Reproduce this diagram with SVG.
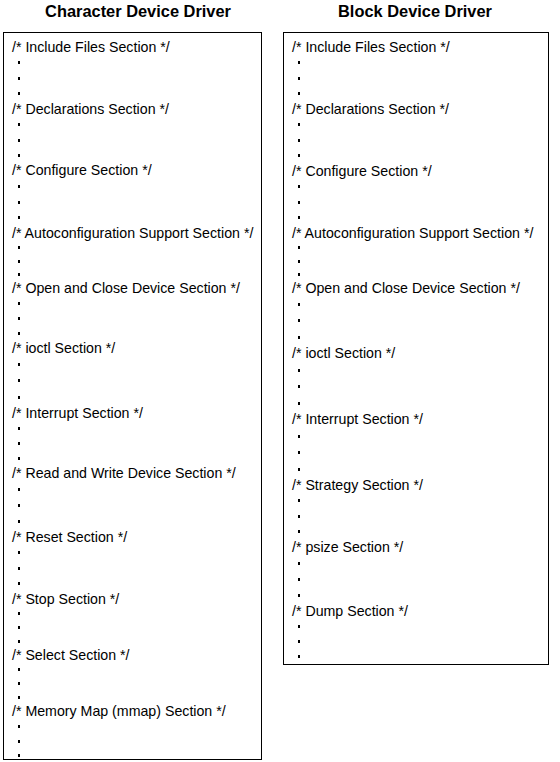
<svg xmlns="http://www.w3.org/2000/svg" width="560" height="762" viewBox="0 0 560 762">
<style>
.title{font-family:"Liberation Sans",Arial,sans-serif;font-weight:bold;font-size:16.4px;fill:#000;text-anchor:middle}
.t{font-family:"Liberation Sans",Arial,sans-serif;font-size:14.2px;fill:#000}
.box{fill:#fff;stroke:#000;stroke-width:1}
.d{fill:#000}
</style>
<rect width="560" height="762" fill="#fff"/>
<g id="char-driver">
<text class="title" x="138" y="17">Character Device Driver</text>
<rect class="box" x="3.5" y="32.5" width="258" height="727"/>
<text class="t" x="12" y="52">/* Include Files Section */</text>
<text class="t" x="12" y="114">/* Declarations Section */</text>
<text class="t" x="12" y="175">/* Configure Section */</text>
<text class="t" x="12" y="238">/* Autoconfiguration Support Section */</text>
<text class="t" x="12" y="293">/* Open and Close Device Section */</text>
<text class="t" x="12" y="353">/* ioctl Section */</text>
<text class="t" x="12" y="418">/* Interrupt Section */</text>
<text class="t" x="12" y="478">/* Read and Write Device Section */</text>
<text class="t" x="12" y="542">/* Reset Section */</text>
<text class="t" x="12" y="604">/* Stop Section */</text>
<text class="t" x="12" y="660">/* Select Section */</text>
<text class="t" x="12" y="716">/* Memory Map (mmap) Section */</text>
<g class="d">
<rect x="18" y="61" width="2" height="3"/><rect x="18" y="77" width="2" height="3"/><rect x="18" y="92" width="2" height="3"/>
<rect x="18" y="123" width="2" height="3"/><rect x="18" y="139" width="2" height="3"/><rect x="18" y="154" width="2" height="3"/>
<rect x="18" y="185" width="2" height="3"/><rect x="18" y="201" width="2" height="3"/><rect x="18" y="216" width="2" height="3"/>
<rect x="18" y="246" width="2" height="3"/><rect x="18" y="260" width="2" height="3"/><rect x="18" y="273" width="2" height="3"/>
<rect x="18" y="302" width="2" height="3"/><rect x="18" y="317" width="2" height="3"/><rect x="18" y="332" width="2" height="3"/>
<rect x="18" y="363" width="2" height="3"/><rect x="18" y="379" width="2" height="3"/><rect x="18" y="396" width="2" height="3"/>
<rect x="18" y="427" width="2" height="3"/><rect x="18" y="442" width="2" height="3"/><rect x="18" y="457" width="2" height="3"/>
<rect x="18" y="488" width="2" height="3"/><rect x="18" y="504" width="2" height="3"/><rect x="18" y="520" width="2" height="3"/>
<rect x="18" y="551" width="2" height="3"/><rect x="18" y="567" width="2" height="3"/><rect x="18" y="582" width="2" height="3"/>
<rect x="18" y="612" width="2" height="3"/><rect x="18" y="626" width="2" height="3"/><rect x="18" y="640" width="2" height="3"/>
<rect x="18" y="668" width="2" height="3"/><rect x="18" y="682" width="2" height="3"/><rect x="18" y="696" width="2" height="3"/>
<rect x="18" y="725" width="2" height="3"/><rect x="18" y="740" width="2" height="3"/><rect x="18" y="754" width="2" height="3"/>
</g>
</g>
<g id="block-driver">
<text class="title" x="415" y="17">Block Device Driver</text>
<rect class="box" x="283.5" y="32.5" width="265" height="632"/>
<text class="t" x="292" y="52">/* Include Files Section */</text>
<text class="t" x="292" y="114">/* Declarations Section */</text>
<text class="t" x="292" y="176">/* Configure Section */</text>
<text class="t" x="292" y="238">/* Autoconfiguration Support Section */</text>
<text class="t" x="292" y="293">/* Open and Close Device Section */</text>
<text class="t" x="292" y="358">/* ioctl Section */</text>
<text class="t" x="292" y="424">/* Interrupt Section */</text>
<text class="t" x="292" y="490">/* Strategy Section */</text>
<text class="t" x="292" y="552">/* psize Section */</text>
<text class="t" x="292" y="616">/* Dump Section */</text>
<g class="d">
<rect x="298" y="61" width="2" height="3"/><rect x="298" y="77" width="2" height="3"/><rect x="298" y="92" width="2" height="3"/>
<rect x="298" y="123" width="2" height="3"/><rect x="298" y="139" width="2" height="3"/><rect x="298" y="154" width="2" height="3"/>
<rect x="298" y="185" width="2" height="3"/><rect x="298" y="201" width="2" height="3"/><rect x="298" y="216" width="2" height="3"/>
<rect x="298" y="246" width="2" height="3"/><rect x="298" y="260" width="2" height="3"/><rect x="298" y="273" width="2" height="3"/>
<rect x="298" y="303" width="2" height="3"/><rect x="298" y="319" width="2" height="3"/><rect x="298" y="336" width="2" height="3"/>
<rect x="298" y="369" width="2" height="3"/><rect x="298" y="385" width="2" height="3"/><rect x="298" y="402" width="2" height="3"/>
<rect x="298" y="435" width="2" height="3"/><rect x="298" y="451" width="2" height="3"/><rect x="298" y="468" width="2" height="3"/>
<rect x="298" y="499" width="2" height="3"/><rect x="298" y="515" width="2" height="3"/><rect x="298" y="530" width="2" height="3"/>
<rect x="298" y="562" width="2" height="3"/><rect x="298" y="578" width="2" height="3"/><rect x="298" y="594" width="2" height="3"/>
<rect x="298" y="625" width="2" height="3"/><rect x="298" y="640" width="2" height="3"/><rect x="298" y="655" width="2" height="3"/>
</g>
</g>
</svg>
